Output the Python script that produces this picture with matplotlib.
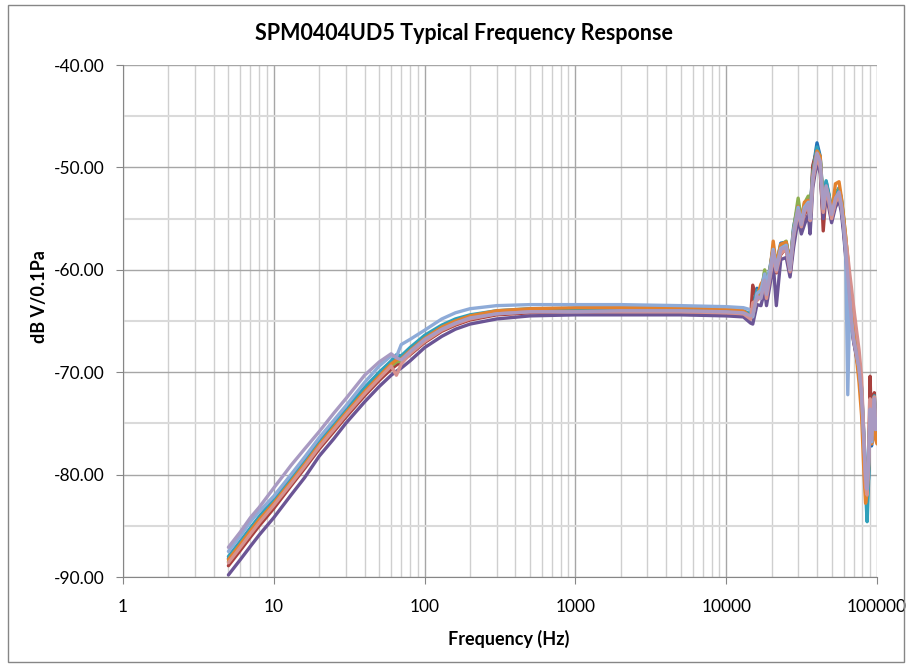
import matplotlib.pyplot as plt
from matplotlib.patches import Rectangle
from matplotlib.ticker import FixedLocator, FuncFormatter, NullFormatter

# Frequency points (Hz)
freq = [5, 6, 7, 8, 10, 13, 16, 20, 25, 30, 40, 50, 60, 65, 70, 80, 100, 130, 160, 200,
        300, 500, 1000, 2000, 5000, 10000, 13000,
        14500, 15000, 16000, 17000, 18000, 18500, 19500, 20500, 21500, 23000,
        25000, 26500, 28000, 30000, 31500, 33000, 35000, 36000, 37500, 40000,
        42000, 44000, 46000, 48000, 50000, 53000, 56000, 58000, 60000, 62000,
        64000, 66000, 68000, 70000, 73000, 76000, 79000, 82000, 84000, 86000,
        88000, 90000, 92000, 94000, 96000, 98000, 100000]

# Response of each sample unit (dB V/0.1Pa)
unit_blue = [-88.2, -86.7, -85.4, -84.3, -82.6, -80.5, -78.8, -76.9, -75.2, -73.8, -71.7, -70.2, -69.1, -68.6, -68.5, -67.8, -66.6, -65.6, -65.0, -64.6,
             -64.1, -63.9, -63.9, -63.9, -63.9, -64.0, -64.1,
             -64.4, -63.5, -61.8, -62.3, -60.2, -61.8, -59.8, -57.9, -59.5, -57.4,
             -57.3, -59.4, -55.8, -53.6, -55.0, -53.7, -53.0, -54.4, -50.3, -47.6,
             -48.9, -53.4, -51.4, -52.8, -54.2, -52.6, -52.0, -53.1, -55.0, -57.4,
             -59.8, -62.5, -64.8, -66.0, -67.5, -68.8, -71.5, -76.4, -79.6, -81.6,
             -80.3, -74.0, -77.2, -74.6, -73.0, -75.8, -74.2]
unit_red = [-88.9, -87.4, -86.1, -85.0, -83.3, -81.1, -79.4, -77.5, -75.8, -74.4, -72.3, -70.8, -69.7, -69.3, -69.0, -68.3, -67.1, -66.0, -65.4, -64.9,
            -64.4, -64.2, -64.1, -64.1, -64.1, -64.2, -64.3,
            -64.8, -61.5, -62.9, -62.0, -60.6, -63.0, -60.4, -58.8, -60.3, -58.5,
            -57.9, -60.5, -56.9, -54.5, -56.0, -54.6, -53.9, -55.4, -49.8, -48.3,
            -49.8, -56.2, -52.3, -53.5, -55.2, -53.4, -52.6, -53.8, -56.0, -58.4,
            -61.0, -63.4, -65.6, -67.0, -68.3, -70.0, -72.5, -77.5, -80.6, -82.0,
            -78.3, -70.4, -75.8, -73.2, -72.0, -74.8, -73.6]
unit_green = [-88.5, -87.0, -85.7, -84.6, -82.9, -80.8, -79.1, -77.2, -75.5, -74.1, -72.0, -70.5, -69.4, -69.0, -68.9, -68.1, -66.9, -65.8, -65.2, -64.7,
              -64.2, -64.0, -63.9, -63.9, -64.0, -64.0, -64.2,
              -64.5, -64.2, -62.2, -62.4, -60.0, -62.1, -60.0, -57.8, -59.4, -57.6,
              -57.2, -59.6, -56.0, -53.0, -55.1, -53.5, -52.8, -54.6, -50.6, -48.2,
              -49.0, -53.6, -51.6, -52.7, -54.0, -52.6, -52.1, -53.0, -54.8, -56.8,
              -59.0, -62.4, -64.5, -66.2, -67.8, -69.2, -71.8, -77.2, -81.0, -83.2,
              -79.6, -73.8, -76.8, -74.4, -72.8, -75.6, -74.8]
unit_purple = [-89.8, -88.3, -87.0, -85.9, -84.2, -82.0, -80.3, -78.2, -76.5, -75.0, -72.9, -71.4, -70.3, -69.9, -69.6, -68.9, -67.6, -66.5, -65.8, -65.3,
               -64.8, -64.5, -64.4, -64.4, -64.4, -64.5, -64.6,
               -65.2, -65.3, -63.4, -63.5, -62.0, -63.5, -61.5, -59.4, -63.5, -59.0,
               -58.8, -60.7, -57.8, -55.0, -56.5, -55.6, -54.6, -56.5, -52.0, -49.4,
               -50.6, -55.0, -52.6, -54.0, -55.4, -53.9, -53.2, -54.4, -56.4, -58.8,
               -61.2, -63.6, -65.6, -67.0, -68.5, -70.0, -72.4, -77.6, -80.5, -82.0,
               -79.5, -74.3, -77.0, -74.6, -73.2, -76.0, -75.0]
unit_teal = [-88.0, -86.5, -85.2, -84.1, -82.4, -80.3, -78.6, -76.7, -75.0, -73.6, -71.5, -70.0, -68.9, -68.3, -68.4, -67.6, -66.4, -65.4, -64.8, -64.4,
             -64.0, -63.8, -63.8, -63.8, -63.8, -63.9, -64.0,
             -64.3, -64.0, -62.0, -62.2, -60.6, -62.2, -60.2, -58.0, -59.8, -57.8,
             -57.4, -59.8, -56.2, -53.8, -55.2, -53.9, -53.2, -54.8, -50.6, -48.0,
             -49.2, -53.8, -51.3, -52.6, -54.4, -52.8, -52.2, -53.2, -55.2, -57.6,
             -60.2, -62.8, -65.2, -66.6, -68.0, -69.2, -71.6, -76.8, -81.6, -84.6,
             -80.5, -73.0, -76.0, -73.4, -72.3, -75.0, -74.0]
unit_orange = [-88.3, -86.8, -85.5, -84.4, -82.8, -80.7, -79.0, -77.1, -75.4, -74.0, -71.9, -70.4, -69.2, -68.8, -68.7, -67.9, -66.7, -65.6, -65.0, -64.5,
               -64.0, -63.8, -63.7, -63.7, -63.7, -63.8, -64.0,
               -64.6, -64.5, -62.6, -61.4, -60.8, -62.0, -60.2, -57.2, -59.6, -57.5,
               -57.3, -59.4, -56.2, -53.8, -55.2, -53.4, -53.2, -55.0, -50.8, -48.4,
               -48.9, -54.2, -51.9, -52.9, -54.6, -51.6, -51.4, -52.9, -54.8, -56.8,
               -59.0, -61.6, -64.0, -66.0, -68.5, -71.0, -74.2, -80.0, -82.8, -81.8,
               -79.2, -74.0, -77.0, -74.8, -73.6, -76.6, -77.0]
unit_lightblue = [-87.5, -86.0, -84.6, -83.6, -82.1, -80.0, -78.3, -76.4, -74.7, -73.3, -71.0, -69.4, -68.4, -68.5, -67.3, -66.8, -65.9, -64.8, -64.2, -63.8,
                  -63.5, -63.4, -63.4, -63.4, -63.5, -63.6, -63.7,
                  -63.9, -64.6, -62.3, -62.0, -60.4, -61.4, -60.0, -58.0, -59.8, -57.9,
                  -57.6, -59.7, -56.2, -53.9, -55.4, -53.9, -53.4, -55.2, -51.2, -48.7,
                  -49.6, -54.1, -52.0, -53.2, -54.8, -53.3, -52.8, -53.8, -55.6, -58.3,
                  -72.2, -63.0, -65.2, -66.8, -68.2, -69.6, -72.0, -76.8, -79.8, -81.0,
                  -79.0, -73.8, -76.8, -74.2, -72.8, -75.6, -74.8]
unit_pink = [-88.6, -87.1, -85.8, -84.7, -83.0, -80.9, -79.2, -77.3, -75.6, -74.2, -72.1, -70.6, -69.4, -70.3, -69.2, -68.2, -67.0, -65.9, -65.3, -64.8,
             -64.3, -64.1, -64.1, -64.1, -64.1, -64.2, -64.3,
             -64.8, -63.2, -63.0, -62.6, -61.4, -62.8, -60.8, -58.8, -60.2, -58.4,
             -58.0, -60.2, -56.8, -54.4, -55.8, -54.4, -53.7, -55.2, -51.4, -49.0,
             -50.0, -54.4, -52.2, -53.4, -55.0, -53.4, -52.8, -53.8, -55.4, -57.0,
             -58.6, -60.4, -62.0, -63.6, -65.8, -67.8, -70.5, -76.5, -81.2, -82.0,
             -78.6, -72.6, -76.2, -73.8, -72.4, -75.2, -74.6]
unit_lavender = [-87.1, -85.6, -84.2, -83.2, -81.3, -79.1, -77.5, -75.8, -74.0, -72.6, -70.3, -69.0, -68.2, -68.6, -68.8, -68.0, -66.8, -65.8, -65.2, -64.7,
                 -64.3, -64.1, -64.1, -64.0, -64.0, -64.1, -64.2,
                 -64.5, -64.4, -62.6, -62.8, -61.0, -62.4, -60.6, -58.2, -60.0, -58.0,
                 -57.8, -60.0, -56.6, -54.2, -55.6, -54.2, -53.6, -55.0, -51.0, -48.6,
                 -49.4, -54.0, -51.8, -53.0, -54.6, -53.0, -52.4, -53.6, -55.6, -58.0,
                 -60.6, -63.0, -65.2, -66.8, -68.2, -69.6, -72.2, -77.2, -80.4, -81.4,
                 -78.8, -73.6, -76.6, -74.0, -72.6, -75.6, -74.6]

units = [unit_blue, unit_red, unit_green, unit_purple, unit_teal,
         unit_orange, unit_lightblue, unit_pink, unit_lavender]
colors = ["#2171B8", "#A8403D", "#8DB04F", "#6B5595", "#2FA0BA",
          "#E3822E", "#8EABD8", "#D6918E", "#A99AC2"]

x_ticks = [1, 10, 100, 1000, 10000, 100000]
y_ticks = [-90, -80, -70, -60, -50, -40]

font = "Lato"

fig = plt.figure(figsize=(9.07, 6.64), dpi=100)
ax = fig.add_axes([123 / 907, 87 / 664, 754 / 907, 512 / 664])

for vals, c in zip(units, colors):
    ax.plot(freq, vals, color=c, lw=2.4, solid_joinstyle="round", solid_capstyle="round")

ax.set_xscale("log")
ax.set_xlim(1, 100000)
ax.set_ylim(-90, -40)

ax.xaxis.set_major_locator(FixedLocator(x_ticks))
ax.xaxis.set_major_formatter(FuncFormatter(lambda v, p: f"{int(round(v))}"))
ax.xaxis.set_minor_formatter(NullFormatter())
ax.yaxis.set_major_locator(FixedLocator(y_ticks))
ax.yaxis.set_minor_locator(FixedLocator([-85, -75, -65, -55, -45]))
ax.yaxis.set_major_formatter(FuncFormatter(lambda v, p: f"{v:.2f}"))

ax.set_axisbelow(True)
ax.grid(which="major", axis="both", color="#A6A6A6", lw=1.0)
ax.grid(which="minor", axis="x", color="#CFCFCF", lw=1.0)
ax.grid(which="minor", axis="y", color="#DADADA", lw=1.5)

for s in ["top", "right"]:
    ax.spines[s].set_visible(False)
for s in ["left", "bottom"]:
    ax.spines[s].set_color("#868686")

ax.tick_params(which="major", length=5, color="#868686", labelsize=12.5)
ax.tick_params(which="minor", length=0)
ax.tick_params(axis="x", pad=11)
ax.tick_params(axis="y", pad=8)
for lab in ax.get_xticklabels() + ax.get_yticklabels():
    lab.set_fontfamily(font)

fig.text(464 / 907, 1 - 33 / 664, "SPM0404UD5 Typical Frequency Response",
         ha="center", va="center", fontsize=15.5, fontweight="bold", family=font)
fig.text(509 / 907, 1 - 639 / 664, "Frequency (Hz)", ha="center", va="center",
         fontsize=13, fontweight="bold", family=font)
fig.text(40 / 907, 1 - 297 / 664, "dB V/0.1Pa", ha="center", va="center",
         rotation=90, fontsize=13, fontweight="bold", family=font)

fig.patches.append(Rectangle((8 / 907, 2 / 664), 896 / 907, 657 / 664,
                             transform=fig.transFigure, fill=False,
                             edgecolor="#868686", lw=1.0))

plt.savefig("out.png", dpi=100)
